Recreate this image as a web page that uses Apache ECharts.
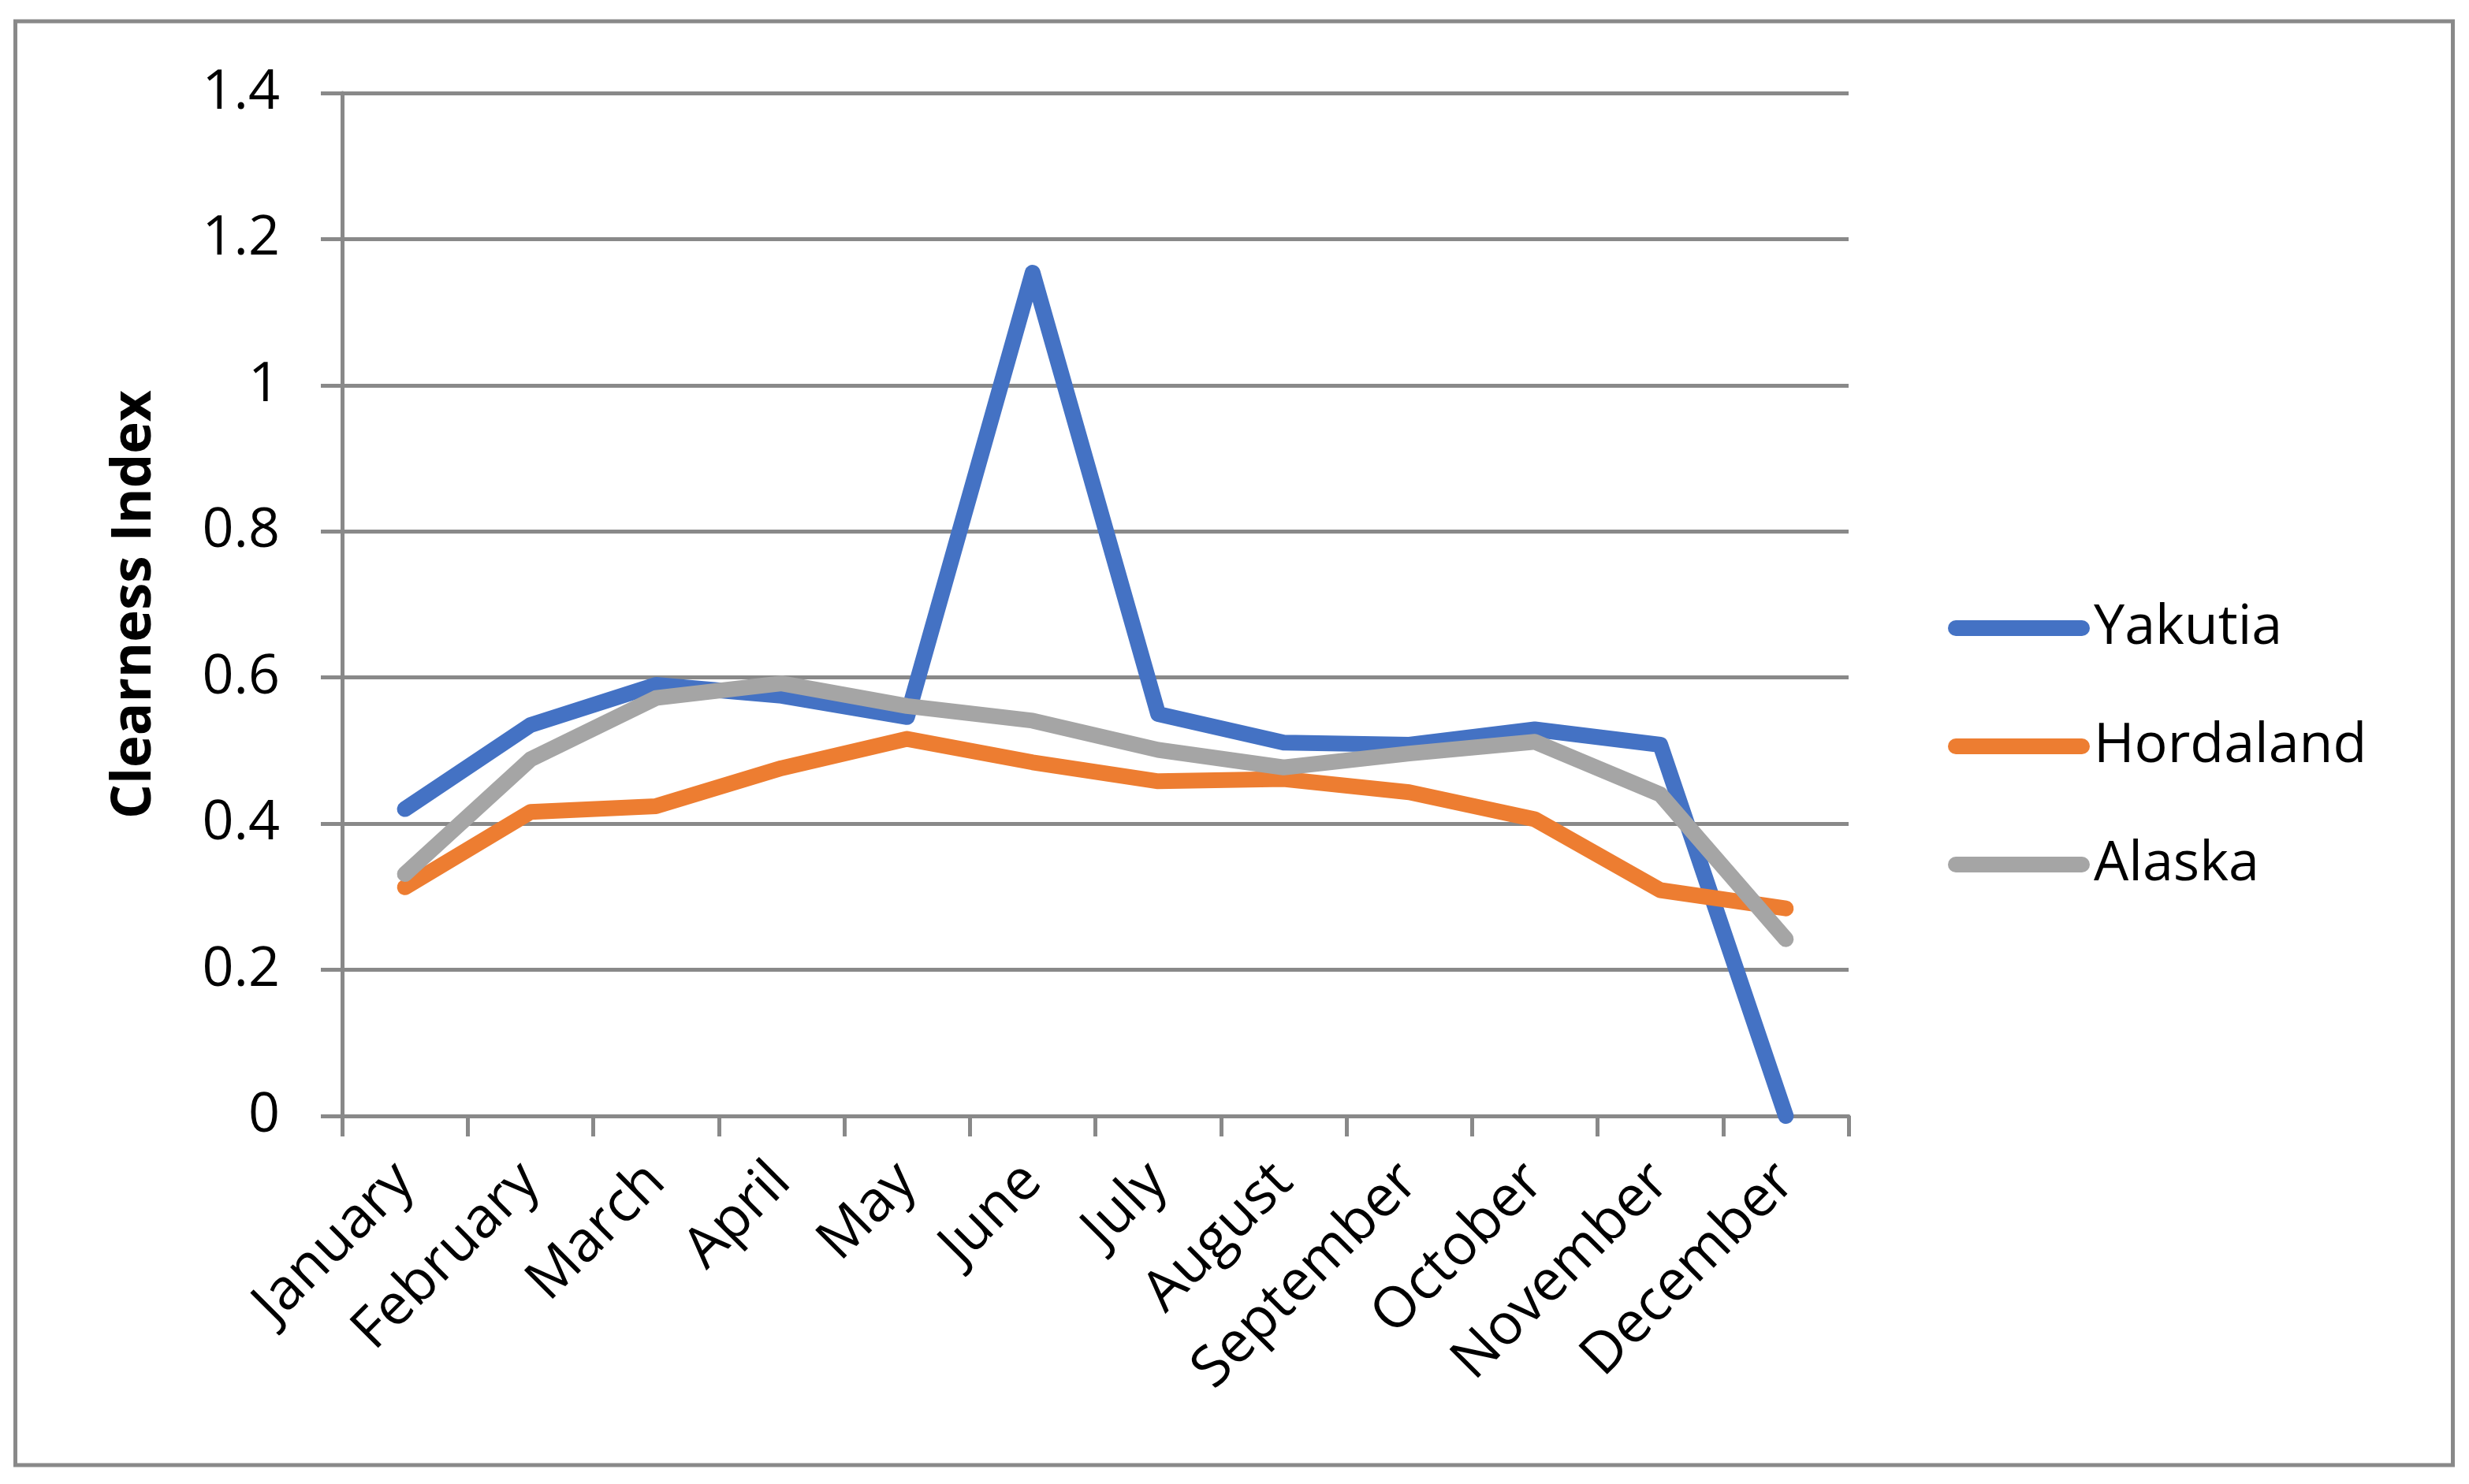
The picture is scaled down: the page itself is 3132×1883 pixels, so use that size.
<!DOCTYPE html>
<html>
<head>
<meta charset="utf-8">
<script src="https://cdn.jsdelivr.net/npm/echarts@6/dist/echarts.min.js"></script>
<style>
html,body{margin:0;padding:0;background:#fff;}
#chart{width:3132px;height:1883px;}
</style>
</head>
<body>
<div id="chart"></div>
<script>
const months = ['January','February','March','April','May','June','July','August','September','October','November','December'];
const yakutia = [0.42, 0.535, 0.59, 0.575, 0.546, 1.154, 0.55, 0.511, 0.508, 0.529, 0.508, 0.0];
const hordaland = [0.313, 0.416, 0.424, 0.476, 0.516, 0.484, 0.458, 0.461, 0.443, 0.406, 0.309, 0.284];
const alaska = [0.331, 0.488, 0.572, 0.592, 0.561, 0.541, 0.501, 0.477, 0.496, 0.512, 0.44, 0.242];
const yTicks = {min: 0, max: 1.4, interval: 0.2};
const axisTitle = 'Clearness Index';

const FONT = 'Open Sans';
const GRAY = '#898989';
const legendIcon = 'path://M10,0 L170,0 A10,10 0 0 1 170,20 L10,20 A10,10 0 0 1 10,0 Z';

const chart = echarts.init(document.getElementById('chart'), null, {renderer: 'canvas'});

function lineSeries(name, data, color) {
  return {
    name: name,
    type: 'line',
    data: data,
    symbol: 'none',
    showSymbol: false,
    lineStyle: {color: color, width: 20, cap: 'round', join: 'round'},
    itemStyle: {color: color},
    emphasis: {disabled: true},
    animation: false
  };
}

chart.setOption({
  animation: false,
  backgroundColor: '#ffffff',
  textStyle: {fontFamily: FONT, color: '#000'},
  graphic: [{
    type: 'rect',
    shape: {x: 19.5, y: 27, width: 3092, height: 1832},
    style: {fill: 'none', stroke: GRAY, lineWidth: 5},
    silent: true
  }],
  grid: {left: 434, right: 787, top: 118, bottom: 467, containLabel: false},
  legend: {
    orient: 'vertical',
    left: 2466,
    top: 752,
    itemWidth: 180,
    itemHeight: 21,
    itemGap: 70,
    icon: legendIcon,
    textStyle: {fontFamily: FONT, fontSize: 70, color: '#000', lineHeight: 80},
    data: ['Yakutia', 'Hordaland', 'Alaska']
  },
  xAxis: {
    type: 'category',
    data: months,
    boundaryGap: true,
    axisLine: {show: true, lineStyle: {color: GRAY, width: 5}},
    axisTick: {show: true, length: 26, lineStyle: {color: GRAY, width: 5}},
    axisLabel: {rotate: 45, margin: 72, fontFamily: FONT, fontSize: 72, color: '#000', interval: 0},
    splitLine: {show: false}
  },
  yAxis: {
    type: 'value',
    min: yTicks.min,
    max: yTicks.max,
    interval: yTicks.interval,
    name: axisTitle,
    nameLocation: 'middle',
    nameGap: 228,
    nameTextStyle: {fontFamily: FONT, fontSize: 69, fontWeight: 'bold', color: '#000'},
    axisLine: {show: true, lineStyle: {color: GRAY, width: 5}},
    axisTick: {show: true, length: 27, lineStyle: {color: GRAY, width: 5}},
    axisLabel: {margin: 79, fontFamily: FONT, fontSize: 70, color: '#000'},
    splitLine: {show: true, lineStyle: {color: GRAY, width: 5}}
  },
  series: [
    lineSeries('Yakutia', yakutia, '#4472C4'),
    lineSeries('Hordaland', hordaland, '#ED7D31'),
    lineSeries('Alaska', alaska, '#A5A5A5')
  ]
});
</script>
</body>
</html>
